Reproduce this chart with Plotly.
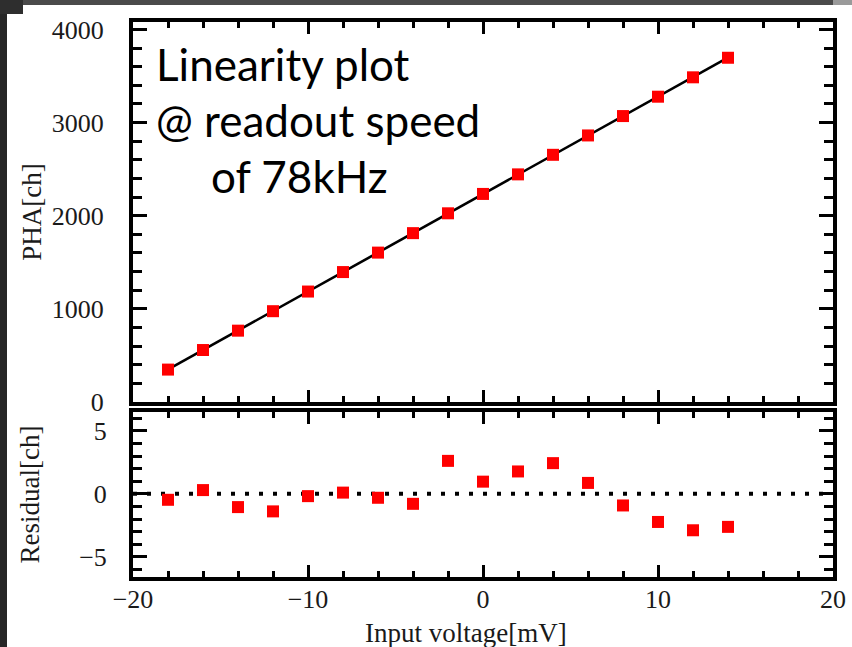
import numpy as np
import plotly.graph_objects as go

# ---------------- data ----------------
voltage_mv = [-18, -16, -14, -12, -10, -8, -6, -4, -2, 0, 2, 4, 6, 8, 10, 12, 14]
pha_ch = [348, 558, 766, 975, 1186, 1395, 1604, 1813, 2026, 2234, 2444, 2654,
          2862, 3070, 3278, 3486, 3696]
residual_ch = [-0.47, 0.30, -1.05, -1.39, -0.18, 0.10, -0.31, -0.79, 2.62, 0.97,
               1.78, 2.44, 0.87, -0.92, -2.23, -2.89, -2.62]

x_range = [-20, 20]
pha_range = [0, 4080]
res_range = [-6.6, 6.5]

# linear fit line from the data
slope, icept = np.polyfit(voltage_mv, pha_ch, 1)
fit_x = [min(voltage_mv) - 0.3, max(voltage_mv) + 0.3]
fit_y = [slope * v + icept for v in fit_x]

# ---------------- geometry helpers (pixels -> paper) ----------------
W, H = 852, 647
L, R, T, B = 133, 833, 22, 577
ml, mr, mt, mb = L, W - R, T, H - B
pw, ph = R - L, B - T


def px(x):
    return (x - L) / pw


def py(y):
    return (B - y) / ph


serif = "Liberation Serif, Times New Roman, serif"
tick_font = dict(family=serif, size=26, color="#1a1a1a")
title_font = dict(family=serif, size=27, color="#1a1a1a")

fig = go.Figure()

fig.add_trace(go.Scatter(x=fit_x, y=fit_y, mode="lines",
                         line=dict(color="black", width=2.6),
                         xaxis="x", yaxis="y", showlegend=False))
fig.add_trace(go.Scatter(x=voltage_mv, y=pha_ch, mode="markers",
                         marker=dict(symbol="square", size=12, color="#ff0000"),
                         xaxis="x", yaxis="y", showlegend=False))
fig.add_trace(go.Scatter(x=x_range, y=[0, 0], mode="lines",
                         line=dict(color="black", width=4, dash="4px,10px"),
                         xaxis="x2", yaxis="y2", showlegend=False))
fig.add_trace(go.Scatter(x=voltage_mv, y=residual_ch, mode="markers",
                         marker=dict(symbol="square", size=12, color="#ff0000"),
                         xaxis="x2", yaxis="y2", showlegend=False))

common_axis = dict(showgrid=False, zeroline=False, showline=True, linecolor="black",
                   linewidth=4, mirror="ticks", ticks="inside", tickcolor="black",
                   tickfont=tick_font, automargin=False)

upper_dom = [py(402), 1.0]
lower_dom = [0.0, py(412)]

fig.update_layout(
    width=W, height=H,
    margin=dict(l=ml, r=mr, t=mt, b=mb, pad=0, autoexpand=False),
    paper_bgcolor="white", plot_bgcolor="white",
    xaxis=dict(common_axis, domain=[0, 1], range=x_range, anchor="y",
               showticklabels=False, dtick=10, tick0=0, ticklen=12, tickwidth=3,
               minor=dict(ticks="inside", dtick=2, ticklen=6, tickwidth=3, tickcolor="black")),
    yaxis=dict(common_axis, domain=upper_dom, range=pha_range, anchor="x",
               dtick=1000, tick0=0, ticklen=14, tickwidth=3, ticklabelstandoff=20,
               minor=dict(ticks="inside", dtick=200, ticklen=9, tickwidth=3, tickcolor="black"),
               title=dict(text="PHA[ch]", font=title_font, standoff=3)),
    xaxis2=dict(common_axis, domain=[0, 1], range=x_range, anchor="y2",
                dtick=10, tick0=0, ticklen=12, tickwidth=3, ticklabelstandoff=-4,
                minor=dict(ticks="inside", dtick=2, ticklen=6, tickwidth=3, tickcolor="black")),
    yaxis2=dict(common_axis, domain=lower_dom, range=res_range, anchor="x2",
                dtick=5, tick0=0, ticklen=14, tickwidth=3, ticklabelstandoff=17,
                minor=dict(ticks="inside", dtick=1, ticklen=9, tickwidth=3, tickcolor="black"),
                title=dict(text="Residual[ch]", font=title_font, standoff=33)),
    showlegend=False,
)

# x-axis title placed as in the reference (slightly left of centre)
fig.add_annotation(text="Input voltage[mV]", xref="paper", yref="paper",
                   x=px(466), y=py(633), xanchor="center", yanchor="middle",
                   showarrow=False, font=title_font)

# annotation text (slide overlay)
ann_font = dict(family="Lato, Open Sans, sans-serif", size=44, color="black")
lines = [("Linearity plot", 154, 64), ("@ readout speed", 154, 120), ("of 78kHz", 209, 176)]
for txt, xx, yy in lines:
    fig.add_annotation(text=txt, xref="paper", yref="paper", x=px(xx), y=py(yy),
                       xanchor="left", yanchor="middle", showarrow=False, font=ann_font)

# dark slide frame edges
shapes = [
    dict(type="rect", xref="paper", yref="paper", x0=px(-5), x1=px(7), y0=py(H + 20), y1=py(-5),
         fillcolor="#262626", line=dict(width=0), layer="above"),
    dict(type="rect", xref="paper", yref="paper", x0=px(-5), x1=px(833), y0=py(5), y1=py(-5),
         fillcolor="#4a4a4a", line=dict(width=0), layer="above"),
    dict(type="rect", xref="paper", yref="paper", x0=px(-5), x1=px(23), y0=py(14), y1=py(-5),
         fillcolor="#2e2e2e", line=dict(width=0), layer="above"),
    dict(type="rect", xref="paper", yref="paper", x0=px(833), x1=px(W + 5), y0=py(5), y1=py(-5),
         fillcolor="#9a9a9a", line=dict(width=0), layer="above"),
]
fig.update_layout(shapes=shapes)

fig.write_html("out.html")
